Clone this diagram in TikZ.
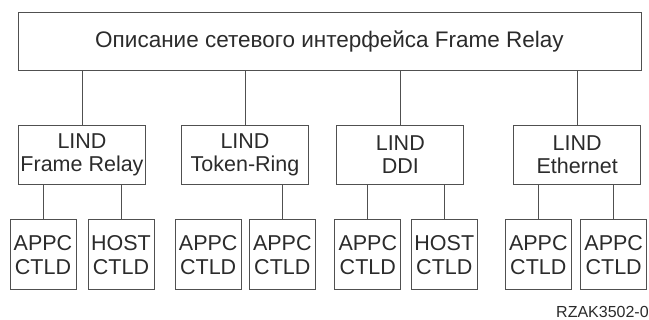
\documentclass[tikz,border=0pt]{standalone}
\usepackage{fontspec}
\setmainfont{Liberation Sans}
\usepackage{tikz}
\usetikzlibrary{positioning}
\definecolor{ink}{HTML}{2B2B2B}
\definecolor{wire}{HTML}{505050}

\begin{document}
\begin{tikzpicture}[x=1pt, y=-1pt, every node/.style={text=ink, font=\fontsize{21.5}{23.5}\selectfont, inner sep=0pt, align=center}, box/.style={draw=wire, line width=1pt}, lind/.style={box, minimum width=127pt, minimum height=59pt}, ctld/.style={box, minimum width=66pt, minimum height=70pt}, wire/.style={draw=wire, line width=1pt}]
\useasboundingbox (0,0) rectangle (649,320);
\draw (329.5, 41.4)node[box, minimum width=623pt, minimum height=58.7pt, font=\fontsize{22.5}{24}\selectfont](nd){Описание сетевого интерфейса Frame Relay};
\draw (82.0, 154.7)node[lind](fr){LIND\\Frame Relay};
\draw (245.0, 154.7)node[lind](tr){LIND\\Token-Ring};
\draw (400.3, 154.7)node[lind](ddi){LIND\\DDI};
\draw (577.2, 154.7)node[lind](eth){LIND\\Ethernet};
\draw (43.0, 255.0)node[ctld](fra){APPC\\CTLD};
\draw (121.0, 255.0)node[ctld](frh){HOST\\CTLD};
\draw (208.2, 255.0)node[ctld](tra){APPC\\CTLD};
\draw (282.3, 255.0)node[ctld](trb){APPC\\CTLD};
\draw (367.8, 255.0)node[ctld](ddia){APPC\\CTLD};
\draw (444.3, 255.0)node[ctld](ddih){HOST\\CTLD};
\draw (538.3, 255.0)node[ctld](etha){APPC\\CTLD};
\draw (613.7, 255.0)node[ctld](ethb){APPC\\CTLD};
\draw (556.0, 318.0)node[anchor=base west, font=\fontsize{16}{18}\selectfont](fig){RZAK3502-0};
\path[wire] (nd.south -| fr) -- (fr);
\path[wire] (nd.south -| tr) -- (tr);
\path[wire] (nd.south -| ddi) -- (ddi);
\path[wire] (nd.south -| eth) -- (eth);
\path[wire] (fr.south -| fra) -- (fra);
\path[wire] (fr.south -| frh) -- (frh);
\path[wire] (tr.south -| trb) -- (trb);
\path[wire] (ddi.south -| ddia) -- (ddia);
\path[wire] (ddi.south -| ddih) -- (ddih);
\path[wire] (eth.south -| etha) -- (etha);
\path[wire] (eth.south -| ethb) -- (ethb);
\end{tikzpicture}
\end{document}
